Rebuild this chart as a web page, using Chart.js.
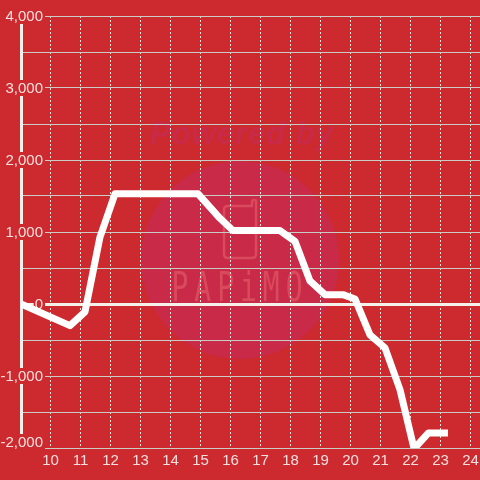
<!DOCTYPE html>
<html>
<head>
<meta charset="utf-8">
<style>
  html, body { margin: 0; padding: 0; background: #cc2a2e; overflow: hidden; }
  #box { width: 480px; height: 480px; }
</style>
</head>
<body>
<div id="box"><canvas id="chartCanvas"></canvas></div>
<script src="https://cdn.jsdelivr.net/npm/chart.js@4/dist/chart.umd.js"></script>
<script>
const hours = [9.02, 10.65, 11.15, 11.65, 12.15, 14.92, 15.65, 16.08, 17.65, 18.15, 18.65, 19.15, 19.75, 20.15, 20.65, 21.15, 21.65, 22.12, 22.6, 23.25];
const profit = [0, -300, -110, 930, 1530, 1530, 1190, 1020, 1020, 870, 320, 130, 130, 70, -430, -610, -1190, -2010, -1790, -1790];
const xTickValues = [10, 11, 12, 13, 14, 15, 16, 17, 18, 19, 20, 21, 22, 23, 24];
const yLabelValues = [4000, 3000, 2000, 1000, 0, -1000, -2000];

const labelColor = '#f4e0e0';
const pageRed = '#cc2a2e';

// watermark behind the grid
const watermark = {
  id: 'watermark',
  beforeDraw(chart) {
    const ctx = chart.ctx;
    ctx.save();
    ctx.fillStyle = '#c92a48';
    ctx.beginPath();
    ctx.arc(240, 260, 99, 0, Math.PI * 2);
    ctx.fill();

    ctx.font = 'italic bold 31px "Liberation Sans"';
    ctx.textAlign = 'center';
    ctx.textBaseline = 'middle';
    ctx.letterSpacing = '1px';
    ctx.fillText('Powered by', 242, 135);

    ctx.strokeStyle = '#d94a5c';
    ctx.lineWidth = 2.5;
    ctx.beginPath();
    ctx.moveTo(253, 206);
    ctx.lineTo(228, 206);
    ctx.quadraticCurveTo(224, 206, 224, 210);
    ctx.lineTo(224, 254);
    ctx.quadraticCurveTo(224, 258, 228, 258);
    ctx.lineTo(252, 258);
    ctx.quadraticCurveTo(256, 258, 256, 254);
    ctx.lineTo(256, 201);
    ctx.quadraticCurveTo(256, 200, 254, 200);
    ctx.quadraticCurveTo(252, 200, 252, 202);
    ctx.lineTo(252, 206);
    ctx.stroke();

    // tall thin logo lettering
    ctx.fillStyle = '#d94a5c';
    ctx.font = '28px "DejaVu Sans Mono"';
    ctx.letterSpacing = '6px';
    ctx.translate(240, 290);
    ctx.scale(1, 1.45);
    ctx.fillText('PAPiMO', 0, 0);
    ctx.restore();
  }
};

// y labels sit over the axis line with a red patch behind them, the scale would clip them
const yLabels = {
  id: 'yLabels',
  beforeDatasetsDraw(chart) {
    const ctx = chart.ctx;
    const scale = chart.scales.y;
    ctx.save();
    ctx.font = '15px "Liberation Sans"';
    ctx.textAlign = 'right';
    ctx.textBaseline = 'middle';
    yLabelValues.forEach(v => {
      const text = v.toLocaleString('en-US');
      // bottom label is pushed up to stay above the x axis labels
      const y = scale.getPixelForValue(v) + (v === -2000 ? -6 : 0);
      const w = ctx.measureText(text).width;
      ctx.fillStyle = pageRed;
      ctx.fillRect(43 - w - 1, y - 8, w + 3, 16);
      ctx.fillStyle = labelColor;
      ctx.fillText(text, 43, y + 1);
    });
    ctx.restore();
  }
};

new Chart(document.getElementById('chartCanvas').getContext('2d'), {
  type: 'line',
  data: {
    labels: hours,
    datasets: [{
      data: hours.map((h, i) => ({ x: h, y: profit[i] })),
      borderColor: '#ffffff',
      borderWidth: 7,
      borderJoinStyle: 'round',
      pointRadius: 0,
      tension: 0,
      fill: false
    }]
  },
  options: {
    responsive: true,
    maintainAspectRatio: false,
    animation: false,
    layout: { padding: { top: 16, left: 0, right: 0, bottom: 0 } },
    plugins: { legend: { display: false }, tooltip: { enabled: false } },
    scales: {
      x: {
        type: 'linear',
        min: 9.017,
        max: 24.317,
        afterBuildTicks(scale) { scale.ticks = xTickValues.map(v => ({ value: v })); },
        afterFit(scale) {
          scale.height = 32;
          scale.paddingLeft = 0;
          scale.paddingRight = 0;
        },
        ticks: {
          color: labelColor,
          font: { family: '"Liberation Sans"', size: 15 },
          autoSkip: false,
          maxRotation: 0,
          padding: 4,
          callback: v => String(v)
        },
        grid: {
          color: '#e6e2dc',
          lineWidth: 1,
          drawTicks: false
        },
        border: { display: false, dash: [2, 2] }
      },
      y: {
        min: -2000,
        max: 4000,
        afterFit(scale) {
          scale.width = 21;
          scale.paddingTop = 0;
          scale.paddingBottom = 0;
        },
        ticks: {
          display: false,
          stepSize: 500
        },
        grid: {
          color: c => (c.tick.value === 0 ? '#f4f0ea' : '#c8ccc4'),
          lineWidth: c => (c.tick.value === 0 ? 3 : 1),
          drawTicks: false
        },
        border: { display: true, color: '#f2f0ec', width: 3 }
      }
    }
  },
  plugins: [watermark, yLabels]
});
</script>
</body>
</html>
